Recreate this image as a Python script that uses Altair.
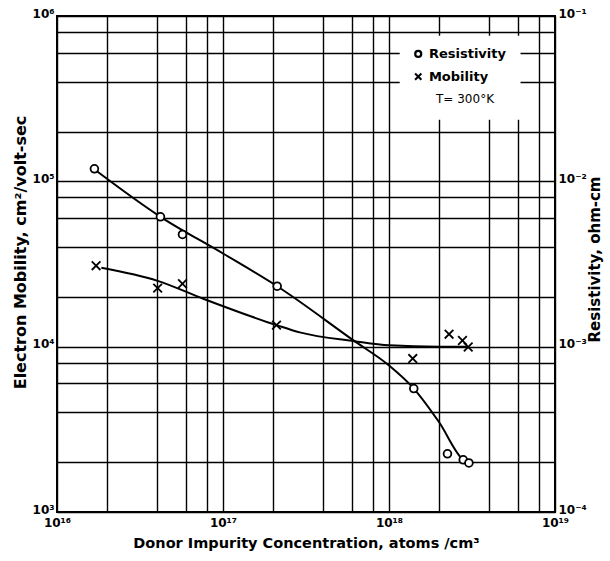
import altair as alt
import pandas as pd

# ---------------- data ----------------
# measured resistivity points (open circles)
res_conc = [1.68e16, 4.2e16, 5.7e16, 2.12e17, 1.41e18, 2.25e18, 2.8e18, 3.03e18]
res_vals = [1.19e-2, 6.1e-3, 4.77e-3, 2.32e-3, 5.58e-4, 2.25e-4, 2.07e-4, 1.98e-4]
# measured mobility points (crosses)
mob_conc = [1.72e16, 4.04e16, 5.7e16, 2.1e17, 1.39e18, 2.3e18, 2.77e18, 3.0e18]
mob_vals = [3.09e4, 2.26e4, 2.4e4, 1.35e4, 8.47e3, 1.19e4, 1.09e4, 9.96e3]
# hand-drawn faired curves
res_curve_conc = [1.7e16, 4.2e16, 1.0e17, 2.12e17, 6.2e17, 1.0e18, 1.41e18, 2.0e18, 2.8e18, 3.03e18]
res_curve_vals = [1.17e-2, 6.1e-3, 3.66e-3, 2.32e-3, 1.08e-3, 7.7e-4, 5.58e-4, 3.5e-4, 2.07e-4, 1.98e-4]
mob_curve_conc = [1.85e16, 4.04e16, 7.6e16, 2.1e17, 2.9e17, 6.2e17, 1.0e18, 2.0e18, 3.0e18]
mob_curve_vals = [3.0e4, 2.5e4, 1.95e4, 1.35e4, 1.22e4, 1.08e4, 1.02e4, 1.0e4, 1.0e4]

# axis grid values and labels
x_grid = [1e16, 2e16, 4e16, 6e16, 8e16, 1e17, 2e17, 4e17, 6e17, 8e17,
          1e18, 2e18, 4e18, 6e18, 8e18, 1e19]
x_dec = [1e16, 1e17, 1e18, 1e19]
x_lab = ["10¹⁶", "10¹⁷", "10¹⁸", "10¹⁹"]
y_grid = [1e3, 2e3, 4e3, 6e3, 8e3, 1e4, 2e4, 4e4, 6e4, 8e4,
          1e5, 2e5, 4e5, 6e5, 8e5, 1e6]
y_dec = [1e3, 1e4, 1e5, 1e6]
y_lab = ["10³", "10⁴", "10⁵", "10⁶"]
r_dec = [1e-4, 1e-3, 1e-2, 1e-1]
r_lab = ["10⁻⁴", "10⁻³", "10⁻²", "10⁻¹"]

# legend box (white patch over grid) and legend entries
box_x = [1.16e18, 6.2e18]
box_y = [7.6e5, 2.36e5]
leg_sym_x = [1.5e18, 1.5e18]
leg_txt_x = [1.74e18, 1.74e18]
leg_y = [5.9e5, 4.3e5]
leg_names = ["Resistivity", "Mobility"]
temp_x = [2.87e18]
temp_y = [3.16e5]
temp_txt = ["T= 300°K"]

FONT = "DejaVu Sans"


def label_expr(vals, labs):
    expr = "''"
    for v, l in reversed(list(zip(vals, labs))):
        expr = f"datum.value == {v!r} ? '{l}' : ({expr})"
    return expr


x_scale = alt.Scale(type="log", domain=[1e16, 1e19], nice=False)
y_scale = alt.Scale(type="log", domain=[1e3, 1e6], nice=False)
r_scale = alt.Scale(type="log", domain=[1e-4, 1e-1], nice=False)

x_axis = alt.Axis(
    values=x_grid, grid=True, gridColor="black", gridWidth=1.4, gridOpacity=1,
    ticks=False, domain=False, labelExpr=label_expr(x_dec, x_lab),
    labelFont=FONT, labelFontWeight="bold", labelFontSize=12, labelColor="black",
    labelPadding=5, labelOverlap=False, labelFlush=False,
    title="Donor Impurity Concentration, atoms /cm³", titleFont=FONT,
    titleFontSize=14.5, titleFontWeight="bold", titleColor="black",
    titleY=31, titleBaseline="middle",
)
y_axis = alt.Axis(
    values=y_grid, grid=True, gridColor="black", gridWidth=1.4, gridOpacity=1,
    ticks=False, domain=False, labelExpr=label_expr(y_dec, y_lab),
    labelFont=FONT, labelFontWeight="bold", labelFontSize=12, labelColor="black",
    labelPadding=3, labelOffset=-3, labelOverlap=False, orient="left",
    title="Electron Mobility, cm²/volt-sec", titleFont=FONT, titleFontSize=16,
    titleFontWeight="bold", titleColor="black", titleAngle=270,
    titleX=-37, titleY=236, titleBaseline="middle", titleAlign="center",
)
r_axis = alt.Axis(
    values=r_dec, grid=False, ticks=False, domain=False,
    labelExpr=label_expr(r_dec, r_lab),
    labelFont=FONT, labelFontWeight="bold", labelFontSize=12, labelColor="black",
    labelPadding=3, labelOffset=-3, labelOverlap=False, orient="right",
    title="Resistivity, ohm-cm", titleFont=FONT, titleFontSize=15,
    titleFontWeight="bold", titleColor="black", titleAngle=270,
    titleX=39, titleY=243, titleBaseline="middle", titleAlign="center",
)

mob_pts_df = pd.DataFrame({"x": mob_conc, "y": mob_vals})
res_pts_df = pd.DataFrame({"x": res_conc, "y": res_vals})
mob_curve_df = pd.DataFrame({"x": mob_curve_conc, "y": mob_curve_vals})
res_curve_df = pd.DataFrame({"x": res_curve_conc, "y": res_curve_vals})
box_df = pd.DataFrame({"x": [box_x[0]], "x2": [box_x[1]], "y": [box_y[0]], "y2": [box_y[1]]})
leg_df = pd.DataFrame({"sx": leg_sym_x, "tx": leg_txt_x, "y": leg_y, "name": leg_names})
temp_df = pd.DataFrame({"x": temp_x, "y": temp_y, "t": temp_txt})

CROSS = "M-1,-1L1,1M1,-1L-1,1"

X = alt.X("x:Q", scale=x_scale, axis=x_axis)
Y = alt.Y("y:Q", scale=y_scale, axis=y_axis)
R = alt.Y("y:Q", scale=r_scale, axis=r_axis)
SX = alt.X("sx:Q", scale=x_scale, axis=x_axis)
TX = alt.X("tx:Q", scale=x_scale, axis=x_axis)

# ---- left (mobility) scale layer ----
box = alt.Chart(box_df).mark_rect(color="white").encode(x=X, x2="x2:Q", y=Y, y2="y2:Q")
mob_line = alt.Chart(mob_curve_df).mark_line(
    color="black", strokeWidth=2, interpolate="monotone"
).encode(x=X, y=Y)
mob_pts = alt.Chart(mob_pts_df).mark_point(
    shape=CROSS, size=75, color="black", strokeWidth=1.8, filled=False, opacity=1
).encode(x=X, y=Y)
leg_circle = alt.Chart(leg_df.iloc[[0]]).mark_point(
    shape="circle", size=36, color="black", strokeWidth=2.2, filled=False, opacity=1
).encode(x=SX, y=Y)
leg_cross = alt.Chart(leg_df.iloc[[1]]).mark_point(
    shape=CROSS, size=40, color="black", strokeWidth=2, filled=False, opacity=1
).encode(x=SX, y=Y)
leg_text = alt.Chart(leg_df).mark_text(
    align="left", baseline="middle", font=FONT, fontSize=13, fontWeight="bold",
    color="black"
).encode(x=TX, y=Y, text="name:N")
temp_text = alt.Chart(temp_df).mark_text(
    align="center", baseline="middle", font=FONT, fontSize=12, color="black"
).encode(x=X, y=Y, text="t:N")
left = alt.layer(box, mob_line, mob_pts, leg_circle, leg_cross, leg_text, temp_text)

# ---- right (resistivity) scale layer ----
res_line = alt.Chart(res_curve_df).mark_line(
    color="black", strokeWidth=2, interpolate="monotone"
).encode(x=X, y=R)
res_pts = alt.Chart(res_pts_df).mark_point(
    shape="circle", size=60, color="black", fill="white", strokeWidth=1.8,
    filled=False, fillOpacity=1, opacity=1
).encode(x=X, y=R)
right = alt.layer(res_line, res_pts)

chart = alt.layer(left, right).resolve_scale(y="independent").properties(
    width=498, height=496,
    padding={"left": 57, "top": 16, "right": 55, "bottom": 49},
    autosize=alt.AutoSizeParams(type="none"),
    background="white",
).configure_view(stroke="black", strokeWidth=2)

chart.save("out.html", embed_options={"renderer": "svg", "actions": False})
